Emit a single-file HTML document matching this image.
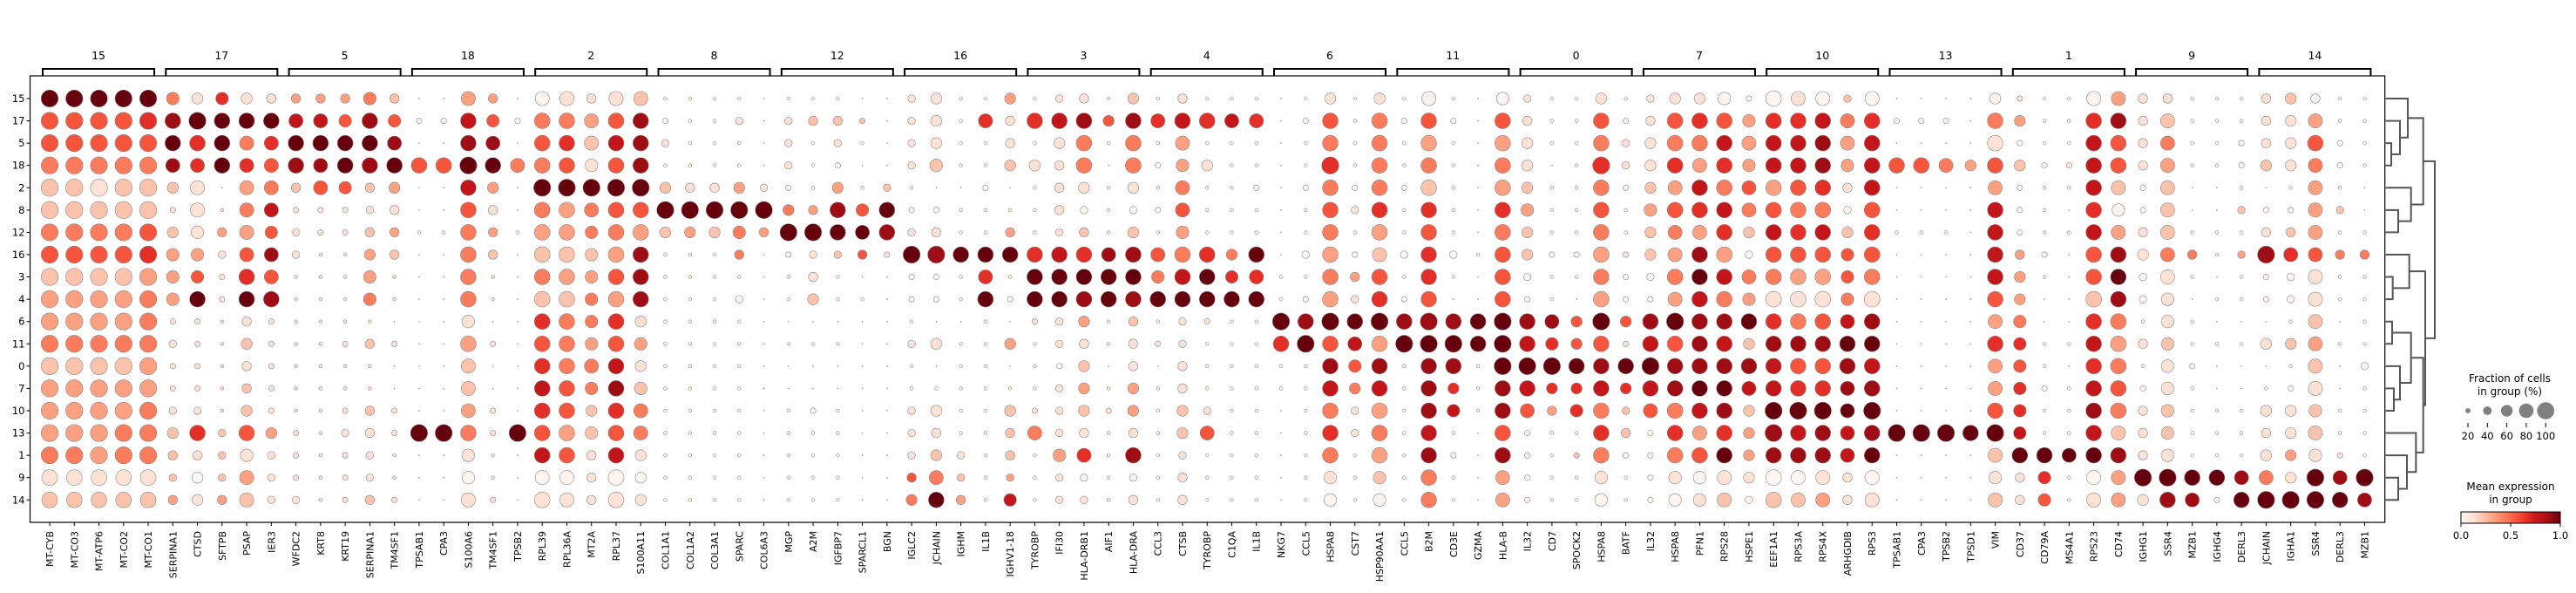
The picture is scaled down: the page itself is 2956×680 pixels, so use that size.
<!DOCTYPE html>
<html><head><meta charset="utf-8"><style>
html,body{margin:0;padding:0;background:#fff;}
svg{display:block;font-family:"DejaVu Sans","Liberation Sans",sans-serif;}
</style></head><body>
<svg id="chart" width="2956" height="680" viewBox="0 0 2956 680" xmlns="http://www.w3.org/2000/svg"></svg>
<script>
const rowLabels=["15","17","5","18","2","8","12","16","3","4","6","11","0","7","10","13","1","9","14"];
const groupLabels=["15","17","5","18","2","8","12","16","3","4","6","11","0","7","10","13","1","9","14"];
const geneNames=["MT-CYB","MT-CO3","MT-ATP6","MT-CO2","MT-CO1","SERPINA1","CTSD","SFTPB","PSAP","IER3","WFDC2","KRT8","KRT19","SERPINA1","TM4SF1","TPSAB1","CPA3","S100A6","TM4SF1","TPSB2","RPL39","RPL36A","MT2A","RPL37","S100A11","COL1A1","COL1A2","COL3A1","SPARC","COL6A3","MGP","A2M","IGFBP7","SPARCL1","BGN","IGLC2","JCHAIN","IGHM","IL1B","IGHV1-18","TYROBP","IFI30","HLA-DRB1","AIF1","HLA-DRA","CCL3","CTSB","TYROBP","C1QA","IL1B","NKG7","CCL5","HSPA8","CST7","HSP90AA1","CCL5","B2M","CD3E","GZMA","HLA-B","IL32","CD7","SPOCK2","HSPA8","BATF","IL32","HSPA8","PFN1","RPS28","HSPE1","EEF1A1","RPS3A","RPS4X","ARHGDIB","RPS3","TPSAB1","CPA3","TPSB2","TPSD1","VIM","CD37","CD79A","MS4A1","RPS23","CD74","IGHG1","SSR4","MZB1","IGHG4","DERL3","JCHAIN","IGHA1","SSR4","DERL3","MZB1"];
// fraction of cells (digit/9), one string per gene, rows in rowLabels order
const fracData=["9999999999999999988","9999999999999999988","9999999999999999988","9999999999999999988","9999999999999999988",
"6887525666232235434","5987776668222238455","6888014322111113334","5877777788454458677","4877776778222225333",
"4788423311111112223","4787722111111111111","4688622111121123222","6888434566141144334","4678544411020022112",
"0208001000000009000","0208001000000009000","7889888888687778667","4678544411020022112","0207001000000009000",
"7888988888888888878","7888988888888888877","4776976666667656444","7888988888888888888","7888988888565677555",
"1231595111111111111","1111495111111111111","1111495111111111111","1311596413111111111","0000394000000000000",
"1333259211010011111","1411149345010021111","1432588311010011111","0210167401000000000","0000388200000000000",
"3333123922131133345","5556024922050154578","1111011811011111334","1711211878111111111","5445014812050154436",
"1815111888211127111","3854443888332333633","4888534888545554733","1510111788110121111","5888535888444554834",
"1712121768120111111","4876776888334455344","1815111888211137111","1711111568111111111","1711211878111111111",
"0000000011981100000","1211211312891111111","5889888888988888866","1111231243876533111","5888888788988888866",
"1211211312891111111","7888888888998888888","1211111310898561211","0000000100881110000","6888888888999888877",
"3455565532889872222","1110111211769541111","1111111210558561211","5889888888988888866","1233211222528534211",
"3455565532889872222","5888787787988888866","5887887888888887866","6888888888888888877","2676775376858755553",
"8888888888888899888","7888888888888898877","7888888888888898877","3776435666788777744","7888888888888898877",
"0208001000000009000","0208001000000009000","0207001000000009000","0005000000000008000","5888788888787789767",
"2525222455666666844","1112111210011211866","1112101000010111711","7888888888888888877","7888767888888887877",
"4444224533141244495","4777777776666666698","1111001410112111187","1111001101010011182","1122131311010011178",
"4445024922050154579","5555124733151255559","4787777777777767699","1122131411010011278","1111001411113111197"];
// mean expression (digit/9)
const exprData=["9554224523342333412","9554224523342333412","9554124523342333312","9554224523342334412","9654225634443344412",
"4898212333111112223","1966111359111116101","6999113111111112223","1946343569121225132","1965475858111113111",
"3798211111111111111","3798511111111111111","3599511111111111111","4898212334121121112","2589313211111111111",
"0005000000000009000","0005000000000009000","3789754444132234101","3589313211111111111","0004000000000009000",
"0454943242656765701","1465933232444553501","1321944234434422111","1575954353657865701","2888953888131244101",
"0010292000000000000","0000193000000000000","0000192000000000000","0100394400000000000","0000193000000000000",
"0111049000000000000","0200039112000000000","0210389200000000000","0200059500000000000","0000298100000000000",
"1111001900010011154","1112001800010011249","0000000900000000123","0600000969000000000","3112003900030022237",
"0601000699100014000","1711111799110111311","1844102698312321601","0500000899000010000","2844102898211331801",
"0600000549010000000","1733453479111122111","0601000699100015000","0700000469000000000","0600000969000000000",
"0000000000960000000","0000000000890000000","1546454343958746410","0000010031975411000","1444463256938734320",
"0000000000890000000","0534265665898887844","0000000000898670000","0000000000990000000","0534364555999885833",
"1111232200879750000","0000000000869630000","0000000000559660200","1546454343958746410","0011000100519622000",
"1111232200879750000","1546354343958846410","1643763897888973501","0576476374878986912","0333542043928723310",
"0677357541687798802","1677546531485697802","0788647531585698813","2433102554798897711","0677756541897898901",
"0005000000000009000","0005000000000009000","0004000000000009000","0003000000000009000","0415377775363359212",
"1302000333465667911","0000000000000000965","0001000000000000900","0677767552676787901","3855203898434542833",
"1111001100010011191","1243222411121122198","0000000400000000098","0000000000000000090","0000020300000000089",
"1112001800010011149","2111002600020011319","0354333511232122199","0000020400000000189","0000000400000000098"];
const legendFracs=[20,40,60,80,100];
const cbTicks=[0.0,0.5,1.0];

const NS="http://www.w3.org/2000/svg";
const svg=document.getElementById('chart');
function el(tag,attrs,parent){const e=document.createElementNS(NS,tag);for(const k in attrs)e.setAttribute(k,attrs[k]);(parent||svg).appendChild(e);return e;}
const REDS=["#fff5f0","#fee0d2","#fcbba1","#fc9272","#fb6a4a","#ef3b2c","#cb181d","#a50f15","#67000d"];
function hex(h){return [1,3,5].map(i=>parseInt(h.substr(i,2),16));}
function reds(t){t=Math.max(0,Math.min(1,t));const p=t*8,i=Math.min(7,Math.floor(p)),f=p-i;const a=hex(REDS[i]),b=hex(REDS[i+1]);return "rgb("+a.map((v,k)=>Math.round(v+(b[k]-v)*f)).join(",")+")";}
const L=34.5,T=87,R=2736.7,B=599;
const colX=i=>57+i*28.26;
const rowY=j=>113+j*25.57;
const rad=f=>9.8*Math.pow(Math.max(f,0.02),0.75);

// frame
const frame=el('rect',{x:L,y:T,width:R-L,height:B-T,fill:'none',stroke:'#000','stroke-width':1.2});



// row labels
rowLabels.forEach((r,j)=>{
  const y=rowY(j);
  el('line',{x1:L-4,y1:y,x2:L,y2:y,stroke:'#000','stroke-width':1});
  const t=el('text',{x:L-6,y:y+4,'text-anchor':'end','font-size':11.5});
  t.textContent=r;
  
  
});
// gene labels
geneNames.forEach((g,i)=>{
  const x=colX(i);
  el('line',{x1:x,y1:B,x2:x,y2:B+4,stroke:'#000','stroke-width':1});
  const t=el('text',{x:x,y:609,'text-anchor':'end','font-size':11,transform:'rotate(-90 '+x+' 609)',dy:4});
  t.textContent=g;
  
  
});
// group brackets
groupLabels.forEach((g,k)=>{
  const x0=colX(5*k)-8,x1=colX(5*k+4)+7;
  const p=el('path',{d:`M${x0},${T} L${x0},79 L${x1},79 L${x1},${T}`,fill:'none',stroke:'#000','stroke-width':2});
  
  
  const t=el('text',{x:(x0+x1)/2,y:68,'text-anchor':'middle','font-size':12.5});
  t.textContent=g;
  
  
});
// dots
geneNames.forEach((g,i)=>{
  rowLabels.forEach((r,j)=>{
    const f=(+fracData[i][j])/9, c=(+exprData[i][j])/9;
    const d=el('circle',{cx:colX(i),cy:rowY(j),r:rad(f),fill:reds(c),stroke:'#8a8a8a','stroke-width':0.6});
    
    
  });
});
// dendrogram
const DX=xz=>2600+xz/3;
const tree=[[[0,[1,[2,3,432],462],489],[4,[5,6,456],500],542],[[7,[8,9,437],494],[[[10,11,435],[12,[13,14,441],462],500],[15,[16,[17,18,456],486],517],542],549],582];
function draw(n){
  if(typeof n==='number')return {y:rowY(n),x:DX(413)};
  const a=draw(n[0]),b=draw(n[1]),x=DX(n[2]);
  const p=el('path',{d:`M${a.x},${a.y} L${x},${a.y} L${x},${b.y} L${b.x},${b.y}`,fill:'none',stroke:'#555','stroke-width':2});
  
  
  return {y:(a.y+b.y)/2,x:x};
}
draw(tree);
// size legend
const t1=el('text',{x:2880,y:438,'text-anchor':'middle','font-size':12});t1.textContent='Fraction of cells';


const t2=el('text',{x:2880,y:453,'text-anchor':'middle','font-size':12});t2.textContent='in group (%)';


legendFracs.forEach((v,k)=>{
  const x=2832+k*22.3;
  const c=el('circle',{cx:x,cy:471,r:rad(v/100),fill:'#808080'});
  
  
  el('line',{x1:x,y1:485,x2:x,y2:490,stroke:'#000','stroke-width':1});
  const t=el('text',{x:x,y:504,'text-anchor':'middle','font-size':11.5});t.textContent=v;
  
  
});
// colorbar
const t3=el('text',{x:2881,y:562,'text-anchor':'middle','font-size':12});t3.textContent='Mean expression';


const t4=el('text',{x:2881,y:577,'text-anchor':'middle','font-size':12});t4.textContent='in group';


const defs=el('defs',{});
const lg=el('linearGradient',{id:'redsg',x1:0,y1:0,x2:1,y2:0},defs);
REDS.forEach((c,k)=>el('stop',{offset:(k/8),'stop-color':c},lg));
const cbX0=2824,cbX1=2938;
const cb=el('rect',{x:cbX0,y:587,width:cbX1-cbX0,height:13,fill:'url(#redsg)',stroke:'#000','stroke-width':1});


cbTicks.forEach(v=>{
  const x=cbX0+v*(cbX1-cbX0);
  el('line',{x1:x,y1:600,x2:x,y2:604,stroke:'#000','stroke-width':1});
  const t=el('text',{x:x,y:618,'text-anchor':'middle','font-size':11.5});t.textContent=v.toFixed(1);
  
  
});
</script>
</body></html>
